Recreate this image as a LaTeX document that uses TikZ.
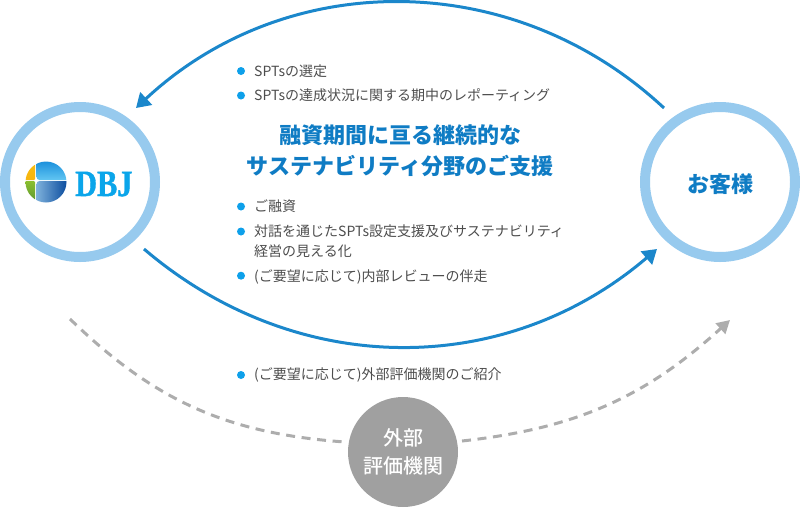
\documentclass[tikz,border=0pt]{standalone}
\usepackage{fontspec}
\setmainfont{Noto Sans CJK JP}
\newfontfamily\hubfont{Noto Sans CJK JP Medium}
\newfontfamily\logofont[BoldFeatures={FakeBold=1.2}]{Liberation Serif}
\usetikzlibrary{arrows.meta}
\definecolor{ringblue}{HTML}{97CAEE}
\definecolor{arcblue}{HTML}{1B87CB}
\definecolor{headblue}{HTML}{0F7CC4}
\definecolor{bulletblue}{HTML}{0EA0EA}
\definecolor{bodygray}{HTML}{4D4D4D}
\definecolor{midgray}{HTML}{A0A0A0}
\definecolor{dashgray}{HTML}{ADADAD}
\definecolor{logocyan}{HTML}{0AA5EA}
\definecolor{globetopl}{HTML}{1E9FE2}
\definecolor{globetopr}{HTML}{1A8FDC}
\definecolor{globelight}{HTML}{62C6F2}
\definecolor{globebotl}{HTML}{7FB2DC}
\definecolor{globebotr}{HTML}{0B4C9E}
\definecolor{leafyellow}{HTML}{F6BE12}
\definecolor{leafgreen}{HTML}{6DAF3A}
\tikzset{
  ring/.style={circle,draw=ringblue,line width=10pt,fill=white,minimum size=150pt,inner sep=0pt},
  solidarc/.style={draw=arcblue,line width=3pt,-{Triangle[length=14pt,width=17pt]}},
  dasharc/.style={draw=dashgray,line width=3pt,dash pattern=on 9pt off 6.6pt},
  dasharrow/.style={dasharc,-{Triangle[length=13pt,width=14pt]}},
  bulletdot/.style={circle,fill=bulletblue,minimum size=8pt,inner sep=0pt},
  bodytext/.style={anchor=west,inner sep=0pt,text=bodygray,font=\fontsize{14}{20}\selectfont,align=left},
  headtext/.style={inner sep=0pt,text=headblue,font=\fontsize{22}{31}\selectfont\bfseries,align=center},
  grayhub/.style={circle,fill=midgray,minimum size=110pt,inner sep=0pt,text=white,font=\hubfont\fontsize{20}{28}\selectfont,align=center}
}
\begin{document}
\begin{tikzpicture}[x=1pt,y=-1pt]
\useasboundingbox (0,0) rectangle (800,507);
% rings
\node[ring] (dbj) at (80,182) {};
\node[ring] (cust) at (720,182) {};
\node[inner sep=0pt,text=headblue,font=\fontsize{22}{26}\selectfont\bfseries] (custlabel) at (720.5,184) {お客様};
% logo
\begin{scope}
  \clip (46,182) circle (20.5);
  \begin{scope}
    \clip[rounded corners=3pt] (36.5,155) rectangle (75,180);
    \shade[top color=globetopr,bottom color=globelight] (30,161) rectangle (70,180);
  \end{scope}
  \begin{scope}
    \clip[rounded corners=3pt] (36.5,181) rectangle (75,210);
    \shade[left color=globebotl,right color=globebotr] (36,181) rectangle (67,203);
  \end{scope}
  \begin{scope}
    \clip[rounded corners=1pt] (20,155) rectangle (35,180);
    \shade[top color=leafyellow,bottom color=leafyellow!85!orange] (25,161) rectangle (35,180);
  \end{scope}
  \begin{scope}
    \clip[rounded corners=1pt] (20,181) rectangle (35,210);
    \shade[top color=leafgreen!80!yellow,bottom color=leafgreen!85!black] (25,181) rectangle (35,203);
  \end{scope}
\end{scope}
\node[inner sep=0pt,anchor=base west,text=logocyan,font=\logofont\fontsize{37}{37}\selectfont\bfseries,xscale=.82] (logotext) at (75,196) {DBJ};
% arcs
\coordinate (topstart) at (664,108);
\coordinate (topend) at (136,108);
\coordinate (botstart) at (144,249);
\coordinate (botend) at (657,249);
\draw[solidarc] (topstart) to[bend right=43] (topend);
\draw[solidarc] (botstart) to[bend right=40.5] (botend);
% hub and dashes
\node[grayhub] (hub) at (403,452) {外部\\評価機関};
\coordinate (dashleft) at (70,319);
\coordinate (dashleftend) at (345,442);
\coordinate (dashrightstart) at (462,441);
\coordinate (dashright) at (730,320);
\draw[dasharc] (dashleft) to[bend right=20] (dashleftend);
\draw[dasharrow] (dashrightstart) to[bend right=18] (dashright);
% heading
\node[headtext] (head) at (400,151) {融資期間に亘る継続的な\\サステナビリティ分野のご支援};
% bullets
\node[bulletdot] (b1) at (241,71) {};
\node[bulletdot] (b2) at (241,95.5) {};
\node[bulletdot] (b3) at (241,206.5) {};
\node[bulletdot] (b4) at (241,231.5) {};
\node[bulletdot] (b5) at (241,275.7) {};
\node[bulletdot] (b6) at (241,375) {};
\node[bodytext] (t1) at (254,71.5) {SPTsの選定};
\node[bodytext] (t2) at (254,95.5) {SPTsの達成状況に関する期中のレポーティング};
\node[bodytext] (t3) at (254,206.5) {ご融資};
\node[bodytext] (t4) at (254,241.5) {対話を通じたSPTs設定支援及びサステナビリティ\\経営の見える化};
\node[bodytext] (t5) at (254,276.5) {(ご要望に応じて)内部レビューの伴走};
\node[bodytext] (t6) at (254,375) {(ご要望に応じて)外部評価機関のご紹介};
\end{tikzpicture}
\end{document}
